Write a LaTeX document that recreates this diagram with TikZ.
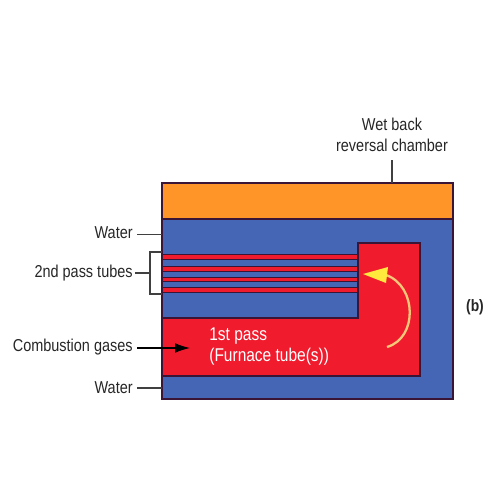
\documentclass[tikz,border=0pt]{standalone}
\usepackage{fontspec}
\setmainfont[FakeStretch=0.84]{Liberation Sans}
\usetikzlibrary{arrows.meta}
\definecolor{chamberorange}{HTML}{FF9428}
\definecolor{waterblue}{HTML}{4565B5}
\definecolor{gasred}{HTML}{F01C2E}
\definecolor{edgedark}{HTML}{3A1535}
\definecolor{flowyellow}{HTML}{FFE93C}
\definecolor{flowpale}{HTML}{F8C878}
\tikzset{
    partline/.style={draw=edgedark, line width=0.6pt},
    tubeline/.style={draw=edgedark, line width=0.45pt},
    leader/.style={draw=black!75, line width=0.6pt},
    caption/.style={font=\fontsize{9.8}{12}\selectfont, text=black!85, inner sep=0pt},
}
\begin{document}
\begin{tikzpicture}[x=0.02cm, y=-0.02cm]
    \useasboundingbox (0,0) rectangle (500,500);

    % Shell
    \fill[waterblue] (162,183) rectangle (453,399);
    \draw[partline, fill=chamberorange] (162,183) rectangle (453,219);

    % Furnace tube and chamber
    \draw[partline, fill=gasred] (162,318) -- (358,318) -- (358,243) -- (420,243) -- (420,376) -- (162,376);

    % Tubes
    \fill[gasred] (162,254) rectangle (358,292);
    \foreach \ytop/\ybot in {259/266, 271/277, 281/287}
        \draw[tubeline, fill=waterblue] (162,\ytop) -- (358,\ytop) -- (358,\ybot) -- (162,\ybot);
    \draw[tubeline] (162,254) -- (358,254);
    \draw[tubeline] (162,292) -- (358,292);
    \draw[partline] (358,254) -- (358,318);

    % Outline
    \draw[edgedark, line width=0.85pt] (162,183) rectangle (453,399);

    % Flow arrow
    \coordinate (flowstart) at (387,347);
    \coordinate (flowend) at (386,275);
    \draw[flowpale, line width=1.3pt] (flowstart) .. controls (418,338) and (417,286) .. (flowend);
    \fill[flowyellow] (363,274) -- (388,267) -- (386,283) -- cycle;

    % Labels
    \node[caption, align=center] (chamberlabel) at (392,134.5) {Wet back\\reversal chamber};
    \node[caption, anchor=east] (waterup) at (133,233) {Water};
    \node[caption, anchor=east] (tubeslabel) at (133,273) {2nd pass tubes};
    \node[caption, anchor=east] (gaseslabel) at (133,347) {Combustion gases};
    \node[caption, anchor=east] (waterdown) at (133,388) {Water};
    \node[caption, font=\fontsize{10.5}{12}\selectfont, text=white, align=left, anchor=west] (passlabel) at (209,346.5) {1st pass\\(Furnace tube(s))};
    \node[caption, font=\fontsize{9.4}{12}\selectfont\bfseries] (partlabel) at (475,307) {(b)};

    % Leaders
    \coordinate (chambertop) at (392,183);
    \coordinate (waterupend) at (162,234.5);
    \coordinate (tubesjoin) at (150,273);
    \coordinate (gasesend) at (190,348);
    \coordinate (waterdownend) at (162,388);
    \draw[leader] (392,160) -- (chambertop);
    \draw[leader] (137,234.5) -- (waterupend);
    \draw[leader] (135,273) -- (tubesjoin);
    \draw[leader] (162,252) -- (150,252) -- (150,294) -- (162,294);
    \draw[leader, draw=black, -{Latex[length=8.5pt, width=5.5pt]}] (137,348) -- (gasesend);
    \draw[leader] (137,388) -- (waterdownend);
\end{tikzpicture}
\end{document}
